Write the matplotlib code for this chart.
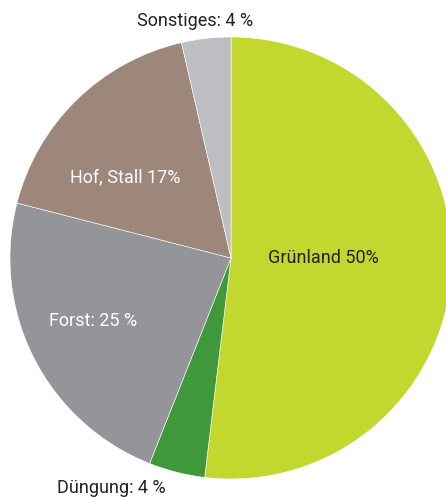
import matplotlib.pyplot as plt

# ── Data (shares as drawn in the chart, label texts as printed) ─────────
categories = ["Grünland", "Düngung", "Forst", "Hof, Stall", "Sonstiges"]
shares     = [51.9, 4.1, 23.0, 17.4, 3.6]
label_text = ["Grünland 50%", "Düngung: 4 %", "Forst: 25 %", "Hof, Stall 17%", "Sonstiges: 4 %"]
colors     = ["#c3d82f", "#3f993a", "#939598", "#9c877a", "#bdbec1"]
text_color = ["#222222", "#222222", "white", "white", "#222222"]
# label centres in pixel coords (x, y from top)
label_pos  = [(323, 258), (111, 488), (93, 321), (125, 177), (195, 21)]

W, H = 446, 497
plt.rcParams["font.family"] = ["Roboto", "DejaVu Sans"]

fig = plt.figure(figsize=(W / 100, H / 100), dpi=100)
ax = fig.add_axes([0, 0, 1, 1])

ax.pie(shares, colors=colors, startangle=90, counterclock=False,
       center=(231, H - 258), radius=221,
       wedgeprops=dict(edgecolor="white", linewidth=0.4))

for txt, (x, y), c in zip(label_text, label_pos, text_color):
    ax.text(x, H - y, txt, ha="center", va="center", fontsize=13, color=c)

ax.set_xlim(0, W)
ax.set_ylim(0, H)
ax.set_aspect("auto")
ax.axis("off")

fig.savefig("out.png", dpi=100)
